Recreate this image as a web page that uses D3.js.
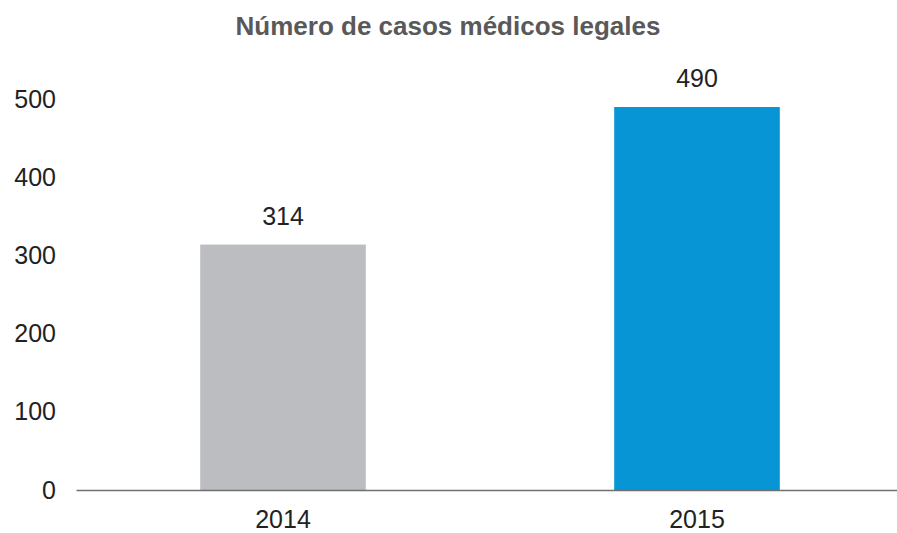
<!DOCTYPE html>
<html><head><meta charset="utf-8">
<script src="https://cdn.jsdelivr.net/npm/d3@7"></script>
<style>body{margin:0;background:#fff}svg{display:block}</style>
</head><body>
<script>
const categories = ["2014", "2015"];
const values = [314, 490];
const barColors = ["#bcbdc0", "#0795d6"];
const yTicks = [0, 100, 200, 300, 400, 500];
const title = "Número de casos médicos legales";

const W = 897, H = 533;
const svg = d3.select("body").append("svg").attr("width", W).attr("height", H);
const font = "'Liberation Sans', Arial, sans-serif";

const x = d3.scaleBand().domain(categories).range([76, 904]).paddingInner(0.6).paddingOuter(0.3);
const y = d3.scaleLinear().domain([0, 500]).range([490, 99.2]);

svg.append("text").attr("x", 448).attr("y", 35).attr("text-anchor", "middle")
  .attr("font-family", font).attr("font-weight", "bold").attr("font-size", 26)
  .attr("fill", "#595959").text(title);

svg.selectAll("rect.bar").data(categories).enter().append("rect")
  .attr("class", "bar")
  .attr("x", d => x(d)).attr("width", x.bandwidth())
  .attr("y", (d, i) => y(values[i])).attr("height", (d, i) => y(0) - y(values[i]))
  .attr("fill", (d, i) => barColors[i]);

svg.selectAll("text.val").data(categories).enter().append("text")
  .attr("class", "val")
  .attr("x", d => x(d) + x.bandwidth() / 2)
  .attr("y", (d, i) => y(values[i]) - 20)
  .attr("text-anchor", "middle").attr("font-family", font).attr("font-size", 25)
  .attr("fill", "#222").text((d, i) => values[i]);

const yAxis = svg.append("g").attr("transform", "translate(56,0)")
  .call(d3.axisLeft(y).tickValues(yTicks).tickSize(0).tickPadding(0));
yAxis.select(".domain").remove();
yAxis.selectAll("text").attr("font-family", font).attr("font-size", 25).attr("fill", "#222");

const xAxis = svg.append("g").attr("transform", "translate(0,490)")
  .call(d3.axisBottom(x).tickSize(0).tickPadding(20));
xAxis.select(".domain").attr("stroke", "#707070").attr("stroke-width", 1.6);
xAxis.selectAll("text").attr("font-family", font).attr("font-size", 25).attr("fill", "#222");
</script>
</body></html>
